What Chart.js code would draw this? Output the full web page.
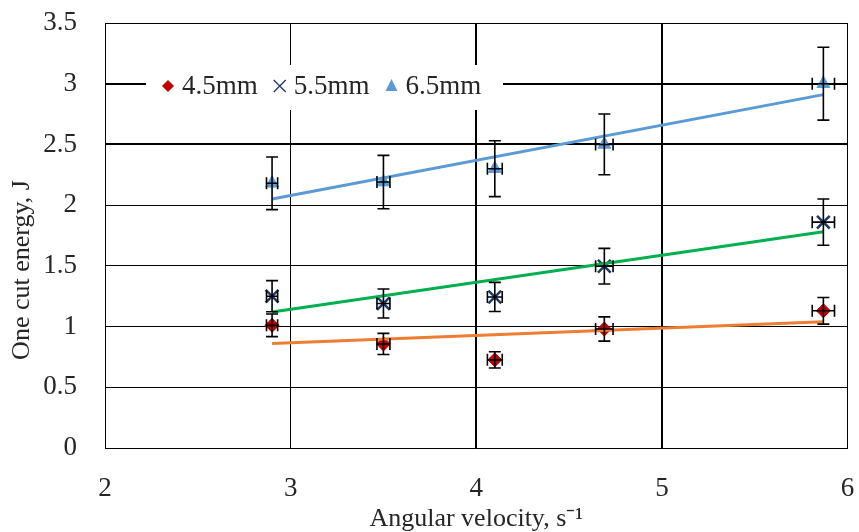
<!DOCTYPE html>
<html>
<head>
<meta charset="utf-8">
<script src="https://cdn.jsdelivr.net/npm/chart.js@4.4.1/dist/chart.umd.min.js"></script>
<style>
html, body { margin: 0; padding: 0; background: #fff; }
</style>
</head>
<body>
<canvas id="chart" width="859" height="532"></canvas>
<script>
'use strict';

// Angular velocity (x) and one cut energy (y) per blade size
var velocity = [2.9, 3.5, 4.1, 4.69, 5.87];
var velocityErr = [0.03, 0.035, 0.04, 0.047, 0.06];

var energy45 = [1.01, 0.857, 0.726, 0.98, 1.13];
var energy55 = [1.25, 1.19, 1.244, 1.497, 1.86];
var energy65 = [2.18, 2.19, 2.30, 2.50, 3.0];

var err45 = [0.093, 0.087, 0.067, 0.1, 0.11];
var err55 = [0.128, 0.12, 0.12, 0.147, 0.19];
var err65 = [0.217, 0.22, 0.23, 0.25, 0.3];

// linear trend lines, start and end
var trendX = [2.9, 5.87];
var trend45 = [0.86, 1.04];
var trend55 = [1.12, 1.78];
var trend65 = [2.05, 2.91];

var xTicks = [2, 3, 4, 5, 6];
var yTicks = [0, 0.5, 1, 1.5, 2, 2.5, 3, 3.5];

var yTitle = 'One cut energy, J';
var serif = '"Liberation Serif", "Times New Roman", serif';

function pts(xs, ys) {
	return xs.map(function (x, i) { return { x: x, y: ys[i] }; });
}

// draws x and y error bars from the dataset arrays
var errorBars = {
	id: 'errorBars',
	afterDatasetsDraw: function (chart) {
		var c = chart.ctx, xs = chart.scales.x, ys = chart.scales.y;
		c.save();
		c.strokeStyle = '#000';
		c.lineWidth = 1.6;
		chart.data.datasets.forEach(function (ds) {
			if (!ds.yErr) return;
			ds.data.forEach(function (p, i) {
				var px = xs.getPixelForValue(p.x), py = ys.getPixelForValue(p.y);
				var t = ys.getPixelForValue(p.y + ds.yErr[i]);
				var b = ys.getPixelForValue(p.y - ds.yErr[i]);
				var l = xs.getPixelForValue(p.x - ds.xErr[i]);
				var r = xs.getPixelForValue(p.x + ds.xErr[i]);
				c.beginPath();
				c.moveTo(px, t); c.lineTo(px, b);
				c.moveTo(px - 6, t); c.lineTo(px + 6, t);
				c.moveTo(px - 6, b); c.lineTo(px + 6, b);
				c.moveTo(l, py); c.lineTo(r, py);
				c.moveTo(l, py - 6); c.lineTo(l, py + 6);
				c.moveTo(r, py - 6); c.lineTo(r, py + 6);
				c.stroke();
			});
		});
		c.restore();
	}
};

function marker(c, style, color, x, y) {
	c.fillStyle = color;
	c.strokeStyle = color;
	c.beginPath();
	if (style === 'rectRot') {
		c.moveTo(x, y - 6); c.lineTo(x + 6, y); c.lineTo(x, y + 6); c.lineTo(x - 6, y);
		c.closePath(); c.fill();
	} else if (style === 'crossRot') {
		c.lineWidth = 1.3;
		c.moveTo(x - 6, y - 6); c.lineTo(x + 6, y + 6);
		c.moveTo(x + 6, y - 6); c.lineTo(x - 6, y + 6);
		c.stroke();
	} else {
		c.moveTo(x, y - 7); c.lineTo(x + 6, y + 5); c.lineTo(x - 6, y + 5);
		c.closePath(); c.fill();
	}
}

// legend sitting inside the plot, on a white box
var insideLegend = {
	id: 'insideLegend',
	afterDraw: function (chart) {
		var c = chart.ctx, a = chart.chartArea;
		var x0 = a.left + 41, y0 = a.top + 42;
		c.save();
		c.fillStyle = '#fff';
		c.fillRect(x0, y0, 357, 45);
		c.font = '27px ' + serif;
		c.textBaseline = 'middle';
		var mx = x0 + 22, cy = y0 + 21;
		chart.data.datasets.forEach(function (ds) {
			if (!ds.yErr) return;
			marker(c, ds.pointStyle, ds.backgroundColor, mx, cy);
			c.fillStyle = '#262626';
			c.fillText(ds.label, mx + 14, cy + 1);
			mx += 14 + c.measureText(ds.label).width + 22;
		});
		c.restore();
	}
};

// y title sits a bit below the middle of the axis, like the original
var yAxisTitle = {
	id: 'yAxisTitle',
	afterDraw: function (chart) {
		var c = chart.ctx, a = chart.chartArea;
		c.save();
		c.fillStyle = '#262626';
		c.font = '26px ' + serif;
		c.textAlign = 'center';
		c.textBaseline = 'middle';
		c.translate(22, a.top + 247);
		c.rotate(-Math.PI / 2);
		c.fillText(yTitle, 0, 0);
		c.restore();
	}
};

function noOverflow(s) {
	s.paddingTop = 0; s.paddingBottom = 0; s.paddingLeft = 0; s.paddingRight = 0;
}

Chart.defaults.font.family = serif;
Chart.defaults.color = '#262626';

var chart = new Chart(document.getElementById('chart'), {
	type: 'scatter',
	data: {
		datasets: [{
			label: '4.5mm',
			data: pts(velocity, energy45),
			yErr: err45, xErr: velocityErr,
			pointStyle: 'rectRot', pointRadius: 7,
			backgroundColor: '#C00000', borderColor: '#C00000', borderWidth: 1,
			order: 1
		}, {
			label: '5.5mm',
			data: pts(velocity, energy55),
			yErr: err55, xErr: velocityErr,
			pointStyle: 'crossRot', pointRadius: 9,
			backgroundColor: '#1F3864', borderColor: '#1F3864', borderWidth: 2.5,
			order: 1
		}, {
			label: '6.5mm',
			data: pts(velocity, energy65),
			yErr: err65, xErr: velocityErr,
			pointStyle: 'triangle', pointRadius: 7.5,
			backgroundColor: '#5B9BD5', borderColor: '#5B9BD5', borderWidth: 1,
			order: 1
		}, {
			type: 'line', label: 'trend 4.5',
			data: pts(trendX, trend45),
			borderColor: '#ED7D31', borderWidth: 3, pointRadius: 0, order: 0
		}, {
			type: 'line', label: 'trend 5.5',
			data: pts(trendX, trend55),
			borderColor: '#00B050', borderWidth: 3, pointRadius: 0, order: 0
		}, {
			type: 'line', label: 'trend 6.5',
			data: pts(trendX, trend65),
			borderColor: '#5B9BD5', borderWidth: 3, pointRadius: 0, order: 0
		}]
	},
	options: {
		responsive: false,
		animation: false,
		devicePixelRatio: 1,
		layout: { padding: { left: 0, right: 8, top: 23, bottom: 0 } },
		plugins: { legend: { display: false }, tooltip: { enabled: false } },
		scales: {
			x: {
				type: 'linear',
				min: xTicks[0], max: xTicks[xTicks.length - 1],
				afterBuildTicks: function (s) { s.ticks = xTicks.map(function (v) { return { value: v }; }); },
				ticks: { font: { size: 27 }, padding: 25, callback: function (v) { return String(v); } },
				grid: {
					color: '#000', drawTicks: false,
					lineWidth: function (ctx) { return ctx.tick && (ctx.tick.value === 4 || ctx.tick.value === 5) ? 2 : 1; }
				},
				border: { color: '#000', width: 1 },
				title: { display: true, text: 'Angular velocity, s\u207B\u00B9', font: { size: 26, lineHeight: 1 }, padding: 0 },
				afterFit: function (s) { s.height = 84; noOverflow(s); }
			},
			y: {
				type: 'linear',
				min: yTicks[0], max: yTicks[yTicks.length - 1],
				afterBuildTicks: function (s) { s.ticks = yTicks.map(function (v) { return { value: v }; }); },
				ticks: { font: { size: 27 }, padding: 28, callback: function (v) { return String(v); } },
				grid: {
					color: '#000', drawTicks: false,
					lineWidth: function (ctx) { return ctx.tick && (ctx.tick.value === 2.5 || ctx.tick.value === 3) ? 2 : 1; }
				},
				border: { color: '#000', width: 1 },
				afterFit: function (s) { s.width = 105; noOverflow(s); }
			}
		}
	},
	plugins: [errorBars, insideLegend, yAxisTitle]
});
</script>
</body>
</html>
